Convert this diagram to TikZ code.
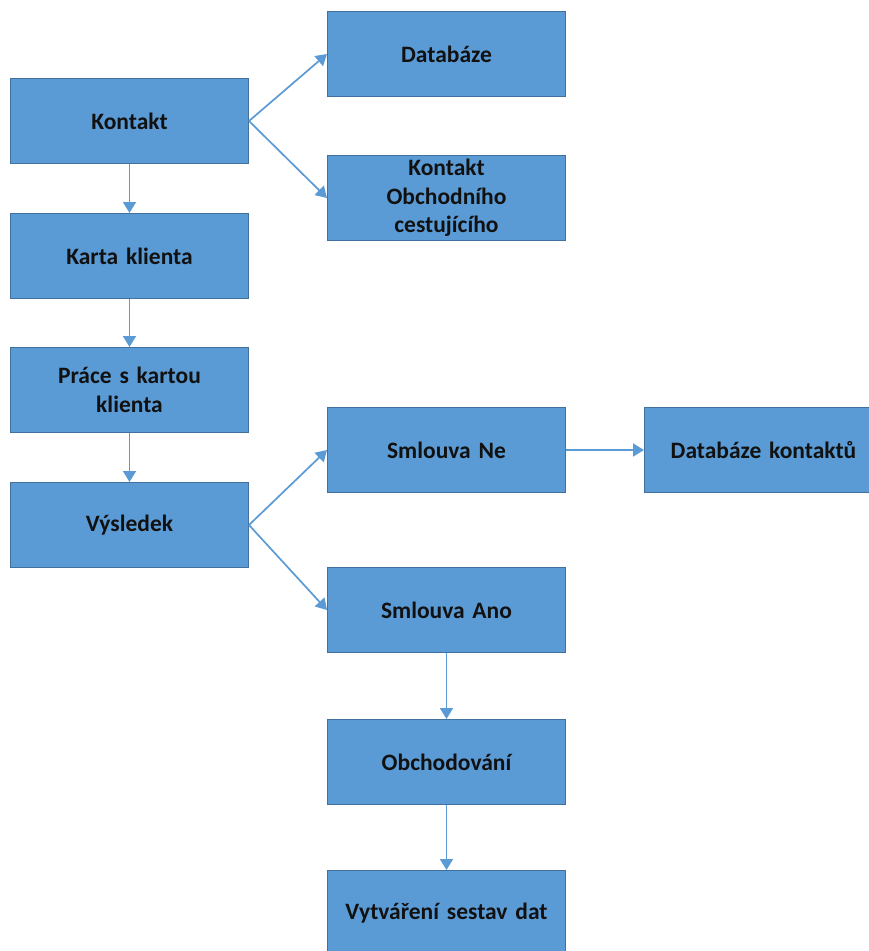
\documentclass[tikz,border=0pt]{standalone}
\usepackage{fontspec}
\setmainfont{Carlito}
\usetikzlibrary{arrows.meta}
\definecolor{boxfill}{HTML}{5B9BD5}
\definecolor{boxline}{HTML}{41719C}
\definecolor{linkcol}{HTML}{5B9BD5}
\definecolor{labeltext}{HTML}{111111}
\newcommand{\boxfont}{\fontsize{23.5}{28.5}\selectfont\bfseries\spaceskip=5pt plus 1pt minus 1pt\relax}
\begin{document}
\begin{tikzpicture}[x=1pt,y=-1pt,
  stepbox/.style={rectangle, draw=boxline, line width=1pt, fill=boxfill,
    minimum width=238pt, minimum height=85pt, inner sep=0pt, anchor=north west,
    align=center, text width=220pt, font=\boxfont, text=labeltext},
  link/.style={draw=linkcol, line width=1.7pt,
    -{Triangle[width=13pt,length=11pt]}}]
\useasboundingbox (0,0) rectangle (869,951);
\clip (0,0) rectangle (869,951);
\fill[white] (0,0) rectangle (869,951);

% left column
\node[stepbox] (kontakt) at (10,78) {Kontakt};
\node[stepbox] (karta) at (10,213) {Karta klienta};
\node[stepbox] (prace) at (10,347) {Práce s kartou\\klienta};
\node[stepbox] (vysledek) at (10,482) {Výsledek};

% middle column
\node[stepbox] (databaze) at (327,11) {Databáze};
\node[stepbox] (obchcest) at (327,155) {Kontakt\\Obchodního\\cestujícího};
\node[stepbox] (ne) at (327,407) {Smlouva Ne};
\node[stepbox] (ano) at (327,567) {Smlouva Ano};
\node[stepbox] (obchod) at (327,719) {Obchodování};
\node[stepbox] (sestavy) at (327,870) {Vytváření sestav dat};

% right column
\node[stepbox] (dbkontakty) at (644,407) {Databáze kontaktů};

% connectors
\draw[link] (kontakt.east) -- (databaze.west);
\draw[link] (kontakt.east) -- (obchcest.west);
\draw[link] (kontakt) -- (karta);
\draw[link] (karta) -- (prace);
\draw[link] (prace) -- (vysledek);
\draw[link] (vysledek.east) -- (ne.west);
\draw[link] (vysledek.east) -- (ano.west);
\draw[link] (ne) -- (dbkontakty);
\draw[link] (ano) -- (obchod);
\draw[link] (obchod) -- (sestavy);
\end{tikzpicture}
\end{document}
